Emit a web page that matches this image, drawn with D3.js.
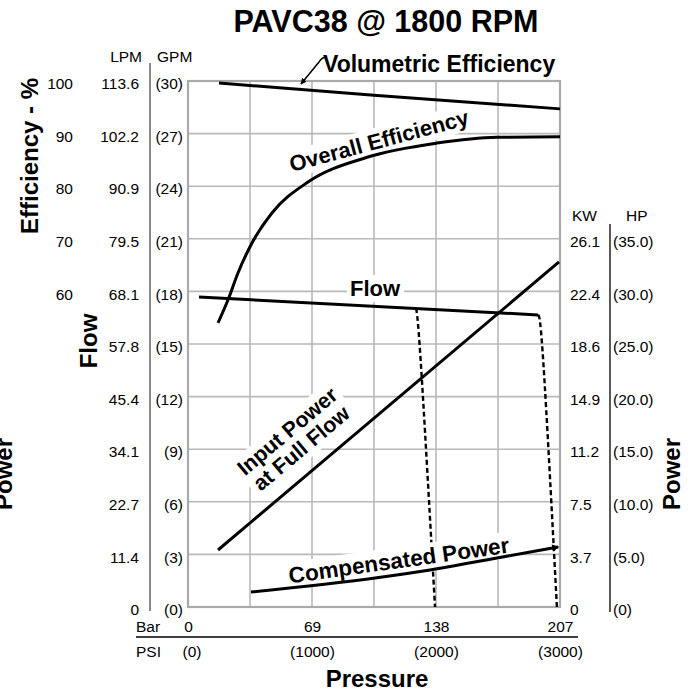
<!DOCTYPE html>
<html><head><meta charset="utf-8">
<script src="https://cdn.jsdelivr.net/npm/d3@7"></script>
<style>
body{margin:0;background:#fff}
svg{display:block}
text{font-family:"Liberation Sans",Arial,Helvetica,sans-serif;fill:#000}
</style>
</head><body><svg id="c" width="692" height="694"></svg>
<script>
// ---------- data ----------
const title = "PAVC38 @ 1800 RPM";
const psiTicks = [0, 1000, 2000, 3000];
const barLabels = ["0", "69", "138", "207"];
const psiLabels = ["(0)", "(1000)", "(2000)", "(3000)"];
const gridPsi = [0, 500, 1000, 1500, 2000, 2500, 3000];
const gpmTicks = [0, 3, 6, 9, 12, 15, 18, 21, 24, 27, 30];
const gpmLabels = ["(0)", "(3)", "(6)", "(9)", "(12)", "(15)", "(18)", "(21)", "(24)", "(27)", "(30)"];
const lpmLabels = ["0", "11.4", "22.7", "34.1", "45.4", "57.8", "68.1", "79.5", "90.9", "102.2", "113.6"];
const effTicks = [60, 70, 80, 90, 100];
const hpTicks = [0, 5, 10, 15, 20, 25, 30, 35];
const hpLabels = ["(0)", "(5.0)", "(10.0)", "(15.0)", "(20.0)", "(25.0)", "(30.0)", "(35.0)"];
const kwLabels = ["0", "3.7", "7.5", "11.2", "14.9", "18.6", "22.4", "26.1"];

// Volumetric efficiency (%) vs pressure (PSI)
const volPsi = [250, 1500, 3000];
const volEff = [99.6, 97.3, 94.7];
// Overall efficiency (%)
const overallPsi = [242, 323, 403, 516, 677, 968, 1444, 2008, 2492, 3000];
const overallEff = [54.0, 58.4, 63.5, 69.2, 74.9, 80.8, 85.5, 88.2, 89.3, 89.4];
// Flow (GPM)
const flowPsi = [89, 2823];
const flowGpm = [17.68, 16.66];
// Compensator cut-off (dashed) GPM
const cut1Psi = [1835, 1858, 1992];
const cut1Gpm = [17.03, 16.8, 0];
const cut2Psi = [2823, 2852, 2975];
const cut2Gpm = [16.66, 16.42, 0];
// Input power at full flow (HP)
const inputPsi = [242, 2992];
const inputHp = [5.42, 32.8];
// Compensated power (HP)
const compPsi = [508, 1508, 1952, 2492, 2984];
const compHp = [1.43, 2.76, 3.52, 4.66, 5.70];

// ---------- layout ----------
const svg = d3.select("#c");
const L = 188, R = 560, T = 81, B = 607;
const x = d3.scaleLinear().domain([0, 3000]).range([L, R]);
const yGpm = d3.scaleLinear().domain([0, 30]).range([B, T]);
const yEff = d3.scaleLinear().domain([0, 100]).range([B, T]);
const yHp = d3.scaleLinear().domain([0, 50]).range([B, T]);
const FS = 15.5;

const defs = svg.append("defs");
defs.append("marker").attr("id", "ah").attr("viewBox", "0 0 10 10").attr("refX", 9).attr("refY", 5)
  .attr("markerWidth", 4).attr("markerHeight", 4).attr("orient", "auto-start-reverse")
  .append("path").attr("d", "M0,0L10,5L0,10z").attr("fill", "#000");
defs.append("marker").attr("id", "ah2").attr("viewBox", "0 0 10 10").attr("refX", 8).attr("refY", 5)
  .attr("markerWidth", 2.5).attr("markerHeight", 2.5).attr("orient", "auto")
  .append("path").attr("d", "M0,0L10,5L0,10z").attr("fill", "#000");

// title
svg.append("text").attr("x", 386).attr("y", 32).attr("text-anchor", "middle")
  .attr("font-size", 30.5).attr("font-weight", "bold").text(title);

// grid
const grid = svg.append("g").attr("stroke", "#b9b9b9").attr("stroke-width", 1.6);
grid.selectAll("line.v").data(gridPsi).join("line").attr("class", "v")
  .attr("x1", d => x(d)).attr("x2", d => x(d)).attr("y1", T).attr("y2", B);
grid.selectAll("line.h").data(gpmTicks).join("line").attr("class", "h")
  .attr("x1", L).attr("x2", R).attr("y1", d => yGpm(d)).attr("y2", d => yGpm(d));
svg.append("rect").attr("x", L).attr("y", T).attr("width", R - L).attr("height", B - T)
  .attr("fill", "none").attr("stroke", "#aaa").attr("stroke-width", 2.2);

// axes helper
function styleAxis(g) {
  g.select(".domain").remove();
  g.selectAll("line").remove();
  g.selectAll("text").attr("font-size", FS).attr("dy", "0.5em").attr("fill", "#000")
    .style("font-family", '"Liberation Sans",Arial,Helvetica,sans-serif');
}
svg.append("g").attr("transform", "translate(73,0)")
  .call(d3.axisLeft(yEff).tickValues(effTicks).tickSize(0).tickPadding(0)).call(styleAxis);
svg.append("g").attr("transform", "translate(139,0)")
  .call(d3.axisLeft(yGpm).tickValues(gpmTicks).tickSize(0).tickPadding(0).tickFormat((d, i) => lpmLabels[i])).call(styleAxis);
svg.append("g").attr("transform", "translate(183,0)")
  .call(d3.axisLeft(yGpm).tickValues(gpmTicks).tickSize(0).tickPadding(0).tickFormat((d, i) => gpmLabels[i])).call(styleAxis);
svg.append("g").attr("transform", "translate(570,0)")
  .call(d3.axisRight(yHp).tickValues(hpTicks).tickSize(0).tickPadding(0).tickFormat((d, i) => kwLabels[i])).call(styleAxis);
svg.append("g").attr("transform", "translate(613,0)")
  .call(d3.axisRight(yHp).tickValues(hpTicks).tickSize(0).tickPadding(0).tickFormat((d, i) => hpLabels[i])).call(styleAxis);

// bottom axes
const bar = svg.append("g").attr("transform", "translate(0,632)")
  .call(d3.axisBottom(x).tickValues(psiTicks).tickSize(0).tickPadding(0).tickFormat((d, i) => barLabels[i]));
bar.select(".domain").remove();
bar.selectAll("text").attr("font-size", FS).attr("dy", 0).attr("y", 0).attr("fill", "#000");
const psi = svg.append("g").attr("transform", "translate(0,657)")
  .call(d3.axisBottom(x).tickValues(psiTicks).tickSize(0).tickPadding(0).tickFormat((d, i) => psiLabels[i]));
psi.select(".domain").remove();
psi.selectAll("text").attr("font-size", FS).attr("dy", 0).attr("y", 0).attr("fill", "#000");
psi.selectAll(".tick").filter(d => d === 0).attr("transform", `translate(${x(0) + 4},0)`);

svg.append("text").attr("x", 136).attr("y", 632).attr("font-size", FS).text("Bar");
svg.append("text").attr("x", 136).attr("y", 657).attr("font-size", FS).text("PSI");
svg.append("line").attr("x1", 136).attr("x2", 578).attr("y1", 637).attr("y2", 637)
  .attr("stroke", "#000").attr("stroke-width", 1.3);

// headers + separators
svg.append("text").attr("x", 142).attr("y", 62).attr("text-anchor", "end").attr("font-size", FS).text("LPM");
svg.append("text").attr("x", 157).attr("y", 62).attr("font-size", FS).text("GPM");
svg.append("line").attr("x1", 150).attr("x2", 150).attr("y1", 63).attr("y2", 611)
  .attr("stroke", "#888").attr("stroke-width", 2);
svg.append("text").attr("x", 572).attr("y", 221).attr("font-size", FS).text("KW");
svg.append("text").attr("x", 626).attr("y", 221).attr("font-size", FS).text("HP");
svg.append("line").attr("x1", 610).attr("x2", 610).attr("y1", 224).attr("y2", 612)
  .attr("stroke", "#000").attr("stroke-width", 1.3);

// axis titles
function vtitle(tx, ty, s) {
  svg.append("text").attr("transform", `translate(${tx},${ty}) rotate(-90)`).attr("text-anchor", "middle")
    .attr("font-size", 24).attr("font-weight", "bold").text(s);
}
vtitle(38, 156, "Efficiency - %");
vtitle(97, 341, "Flow");
vtitle(12, 474, "Power");
vtitle(680, 474, "Power");
svg.append("text").attr("x", 377).attr("y", 687).attr("text-anchor", "middle")
  .attr("font-size", 24).attr("font-weight", "bold").text("Pressure");

// dashed cut-off lines
function dashed(px, py, ys) {
  svg.append("path").attr("d", d3.line().curve(d3.curveBasis)(px.map((p, i) => [x(p), ys(py[i])])))
    .attr("fill", "none").attr("stroke", "#000").attr("stroke-width", 2.4).attr("stroke-dasharray", "5,3");
}
dashed(cut1Psi, cut1Gpm, yGpm);
dashed(cut2Psi, cut2Gpm, yGpm);

// annotation boxes
function annot(tx, ty, rot, lines, fs, gap) {
  const g = svg.append("g").attr("transform", `translate(${tx},${ty}) rotate(${rot})`);
  const r = g.append("rect").attr("fill", "#fff");
  const t = g.append("text").attr("text-anchor", "middle").attr("font-size", fs).attr("font-weight", "bold");
  lines.forEach((s, i) => t.append("tspan").attr("x", 0).attr("y", i * gap).text(s));
  const bb = t.node().getBBox();
  r.attr("x", bb.x - 3).attr("y", bb.y - 1).attr("width", bb.width + 6).attr("height", bb.height + 2);
}
annot(381, 148, -15, ["Overall Efficiency"], 22, 0);
annot(375, 296, 0, ["Flow"], 22, 0);
annot(292, 437, -40, ["Input Power", "at Full Flow"], 21.5, 22);
annot(400, 568, -8, ["Compensated Power"], 22.5, 0);

// volumetric label + arrow
svg.append("text").attr("x", 323).attr("y", 72).attr("font-size", 23).attr("font-weight", "bold")
  .text("Volumetric Efficiency");
svg.append("path").attr("d", "M327,57 Q322,57 319,62 L301,84").attr("fill", "none")
  .attr("stroke", "#000").attr("stroke-width", 1.5).attr("marker-end", "url(#ah)");

// solid curves
function solid(px, py, ys, curve, marker) {
  const p = svg.append("path").attr("d", d3.line().curve(curve)(px.map((v, i) => [x(v), ys(py[i])])))
    .attr("fill", "none").attr("stroke", "#000").attr("stroke-width", 3).attr("stroke-linecap", "butt");
  if (marker) p.attr("marker-end", marker);
}
solid(volPsi, volEff, yEff, d3.curveLinear);
solid(overallPsi, overallEff, yEff, d3.curveMonotoneX);
solid(flowPsi, flowGpm, yGpm, d3.curveLinear);
solid(inputPsi, inputHp, yHp, d3.curveLinear);
solid(compPsi, compHp, yHp, d3.curveMonotoneX, "url(#ah2)");
</script>
</body></html>
